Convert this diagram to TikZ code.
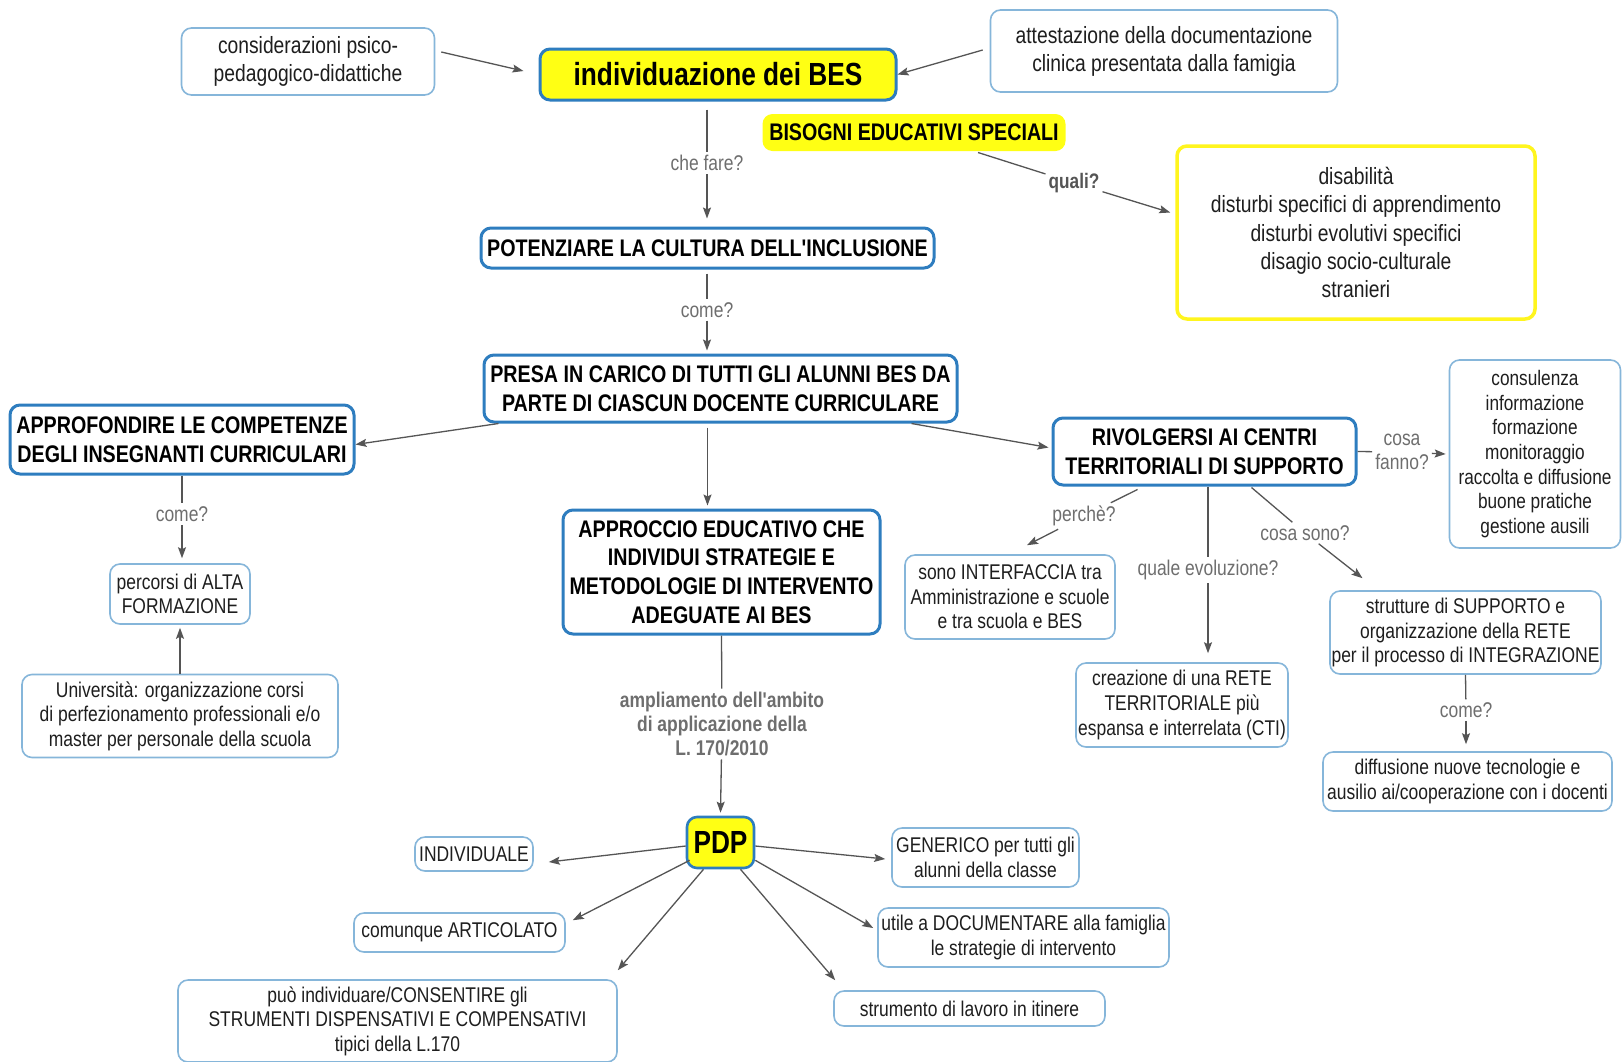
\documentclass[tikz,border=0pt]{standalone}
\usepackage{fontspec}
\setmainfont{Liberation Sans}[FakeStretch=0.82, Ligatures=TeXOff]
\usetikzlibrary{arrows.meta,calc}
\definecolor{dblue}{HTML}{2E7DBF}
\definecolor{lblue}{HTML}{86B6DA}
\definecolor{ylw}{HTML}{FFFF14}
\definecolor{ybord}{HTML}{FFF51E}
\definecolor{arrgray}{HTML}{555555}
\definecolor{lblgray}{HTML}{6E6E6E}
\definecolor{txtc}{HTML}{1E1E1E}
\newcommand\fNorm{\fontsize{23.5}{28}\selectfont}
\newcommand\fSm{\fontsize{21.3}{24.6}\selectfont}
\newcommand\fBold{\fontsize{24}{28.6}\selectfont\bfseries}
\newcommand\fBig{\fontsize{32}{36}\selectfont\bfseries}
\newcommand\fSmall{\fontsize{21}{24.6}\selectfont}
\begin{document}
\begin{tikzpicture}[x=1pt,y=-1pt,
  thinbox/.style={draw=lblue, line width=1.6pt, rounded corners=10pt, fill=white, align=center, inner sep=0pt, text=txtc, font=\fSm},
  thickbox/.style={draw=dblue, line width=3pt, rounded corners=10pt, fill=white, align=center, inner sep=0pt, text=black, font=\fBold},
  yelbox/.style={thickbox, fill=ylw, font=\fBig},
  lbl/.style={font=\fSm, text=lblgray, inner sep=3pt, align=center},
  conn/.style={draw=arrgray, line width=1.3pt},
  arr/.style={conn, -{Stealth[length=11pt,width=8pt,inset=2pt]}},
  sz/.style 2 args={minimum width=#1pt, minimum height=#2pt}
]
\fill[white] (0,0) rectangle (1622,1061);
\useasboundingbox (0,0) rectangle (1622,1061);

% nodes
\node[thinbox, sz={253}{67}, font=\fNorm] (A) at (308,61.5) {considerazioni psico-\\pedagogico-didattiche};
\node[yelbox, sz={356}{51}] (B) at (718,74.5) {individuazione dei BES};
\node[thinbox, sz={347}{82}, font=\fNorm] (C) at (1164,51) {attestazione della documentazione\\clinica presentata dalla famigia};
\node[thickbox, draw=none, fill=ylw, sz={303}{37}] (D) at (914,132.5) {BISOGNI EDUCATIVI SPECIALI};
\node[thinbox, draw=ybord, line width=3.5pt, sz={358}{173}, font=\fontsize{23.5}{28.4}\selectfont] (E) at (1356,232.5) {disabilità\\disturbi specifici di apprendimento\\disturbi evolutivi specifici\\disagio socio-culturale\\stranieri};
\node[thickbox, sz={453}{40}] (F) at (707.5,248) {POTENZIARE LA CULTURA DELL'INCLUSIONE};
\node[thickbox, sz={473}{67}] (G) at (720.5,388.5) {PRESA IN CARICO DI TUTTI GLI ALUNNI BES DA\\PARTE DI CIASCUN DOCENTE CURRICULARE};
\node[thickbox, sz={344}{69}] (H) at (182,439.5) {APPROFONDIRE LE COMPETENZE\\DEGLI INSEGNANTI CURRICULARI};
\node[thickbox, sz={303}{67}] (I) at (1204.5,451.5) {RIVOLGERSI AI CENTRI\\TERRITORIALI DI SUPPORTO};
\node[thinbox, sz={171}{188}, font=\fSmall] (J) at (1535,454) {consulenza\\informazione\\formazione\\monitoraggio\\raccolta e diffusione\\buone pratiche\\gestione ausili};
\node[thickbox, sz={317}{124}] (K) at (721.5,572) {APPROCCIO EDUCATIVO CHE\\INDIVIDUI STRATEGIE E\\METODOLOGIE DI INTERVENTO\\ADEGUATE AI BES};
\node[thinbox, sz={140}{60}] (L) at (180,594) {percorsi di ALTA\\FORMAZIONE};
\node[thinbox, sz={316}{83}] (M) at (180,716) {Università: organizzazione corsi\\di perfezionamento professionali e/o\\master per personale della scuola};
\node[thinbox, sz={210}{84}] (N) at (1010,597) {sono INTERFACCIA tra\\Amministrazione e scuole\\e tra scuola e BES};
\node[thinbox, sz={212}{84}] (O) at (1182,705) {creazione di una RETE\\TERRITORIALE più\\espansa e interrelata (CTI)};
\node[thinbox, sz={271}{83}] (P) at (1465.5,632.5) {strutture di SUPPORTO e\\organizzazione della RETE\\per il processo di INTEGRAZIONE};
\node[thinbox, sz={289}{59}] (Q) at (1467.5,781.5) {diffusione nuove tecnologie e\\ausilio ai/cooperazione con i docenti};
\node[yelbox, line width=2.6pt, sz={67}{51}] (R) at (720.5,842.5) {PDP};
\node[thinbox, sz={118}{34}] (S) at (474,854) {INDIVIDUALE};
\node[thinbox, sz={211}{39}] (T) at (459.5,932.5) {comunque ARTICOLATO};
\node[thinbox, sz={439}{82}] (U) at (397.5,1021) {può individuare/CONSENTIRE gli\\STRUMENTI DISPENSATIVI E COMPENSATIVI\\tipici della L.170};
\node[thinbox, sz={187}{59}] (V) at (985.5,857.5) {GENERICO per tutti gli\\alunni della classe};
\node[thinbox, sz={291}{59}] (W) at (1023.5,937.5) {utile a DOCUMENTARE alla famiglia\\le strategie di intervento};
\node[thinbox, sz={271}{35}] (X) at (969.5,1008.5) {strumento di lavoro in itinere};

% labels
\node[lbl] (L1) at (707,163) {che fare?};
\node[lbl, font=\fontsize{21}{24}\selectfont\bfseries, text=arrgray] (L2) at (1074,183) {quali?};
\node[lbl] (L3) at (707,310) {come?};
\node[lbl, font=\fontsize{21.3}{24.3}\selectfont\bfseries] (L4) at (722,724) {ampliamento dell'ambito\\di applicazione della\\L. 170/2010};
\node[lbl, font=\fontsize{21.3}{23.5}\selectfont] (L6) at (1402,452) {cosa\\fanno?};
\node[lbl] (L5) at (182,514) {come?};
\node[lbl] (L7) at (1084,516) {perchè?};
\node[lbl] (L8) at (1208,570) {quale evoluzione?};
\node[lbl] (L9) at (1305,533) {cosa sono?};
\node[lbl] (L10) at (1466,710) {come?};

% connectors
\draw[arr] ($(A.east)+(6,-9.5)$) -- ($(B.west)+(-15,-3.5)$);
\draw[arr] ($(C.west)+(-7,-1)$) -- (B.east);
\draw[conn] ($(B.south -| L1)+(0,8)$) -- (L1);
\draw[arr] (L1) -- ($(L1 |- F.north)+(0,-8)$);
\draw[conn] ($(D.south)+(64,0)$) -- (L2);
\draw[arr] (L2) -- ($(E.west)+(-5,-20)$);
\draw[conn] ($(F.south -| L3)+(0,4)$) -- (L3);
\draw[arr] (L3) -- ($(L3 |- G.north)+(0,-3)$);
\draw[arr] ($(G.south west)+(16,0)$) -- ($(H.east)+(0,5)$);
\draw[arr] ($(G.south east)+(-47,0)$) -- ($(I.west)+(-3,-4)$);
\draw[arr] ($(G.south)+(-13,4)$) -- ($(K.north)+(-14,-3)$);
\draw[conn] (K.south) -- (L4);
\draw[arr] (L4) -- ($(R.north)+(0,-3)$);
\draw[conn] (H.south) -- (L5);
\draw[arr] (L5) -- ($(L5 |- L.north)+(0,-5)$);
\draw[arr] (M.north) -- ($(L.south)+(0,3)$);
\draw[conn] (I.east) -- (L6);
\draw[arr] (L6) -- ($(J.west)+(-3,0)$);
\draw[conn] ($(I.south)+(-67,3)$) -- (L7);
\draw[arr] (L7) -- ($(N.north)+(17,-9)$);
\draw[conn] (I.south -| L8) -- (L8);
\draw[arr] (L8) -- ($(L8 |- O.north)+(0,-9)$);
\draw[conn] ($(I.south)+(47,1)$) -- (L9);
\draw[arr] (L9) -- ($(P.north)+(-103,-12)$);
\draw[conn] (P.south) -- (L10);
\draw[arr] (L10) -- ($(L10 |- Q.north)+(0,-7)$);
\draw[arr] ($(R.west)+(0,3.5)$) -- ($(S.east)+(15,8)$);
\draw[arr] ($(R.south west)+(4,-9)$) -- ($(T.north east)+(7,8)$);
\draw[arr] ($(R.south)+(-17,0)$) -- ($(U.north east)+(0,-9)$);
\draw[arr] ($(R.east)+(0,3.5)$) -- ($(V.west)+(-6,1.5)$);
\draw[arr] ($(R.south east)+(0,-9)$) -- ($(W.west)+(-4,-9.5)$);
\draw[arr] ($(R.south)+(20,0)$) -- ($(X.north west)+(2,-10)$);
\end{tikzpicture}
\end{document}
